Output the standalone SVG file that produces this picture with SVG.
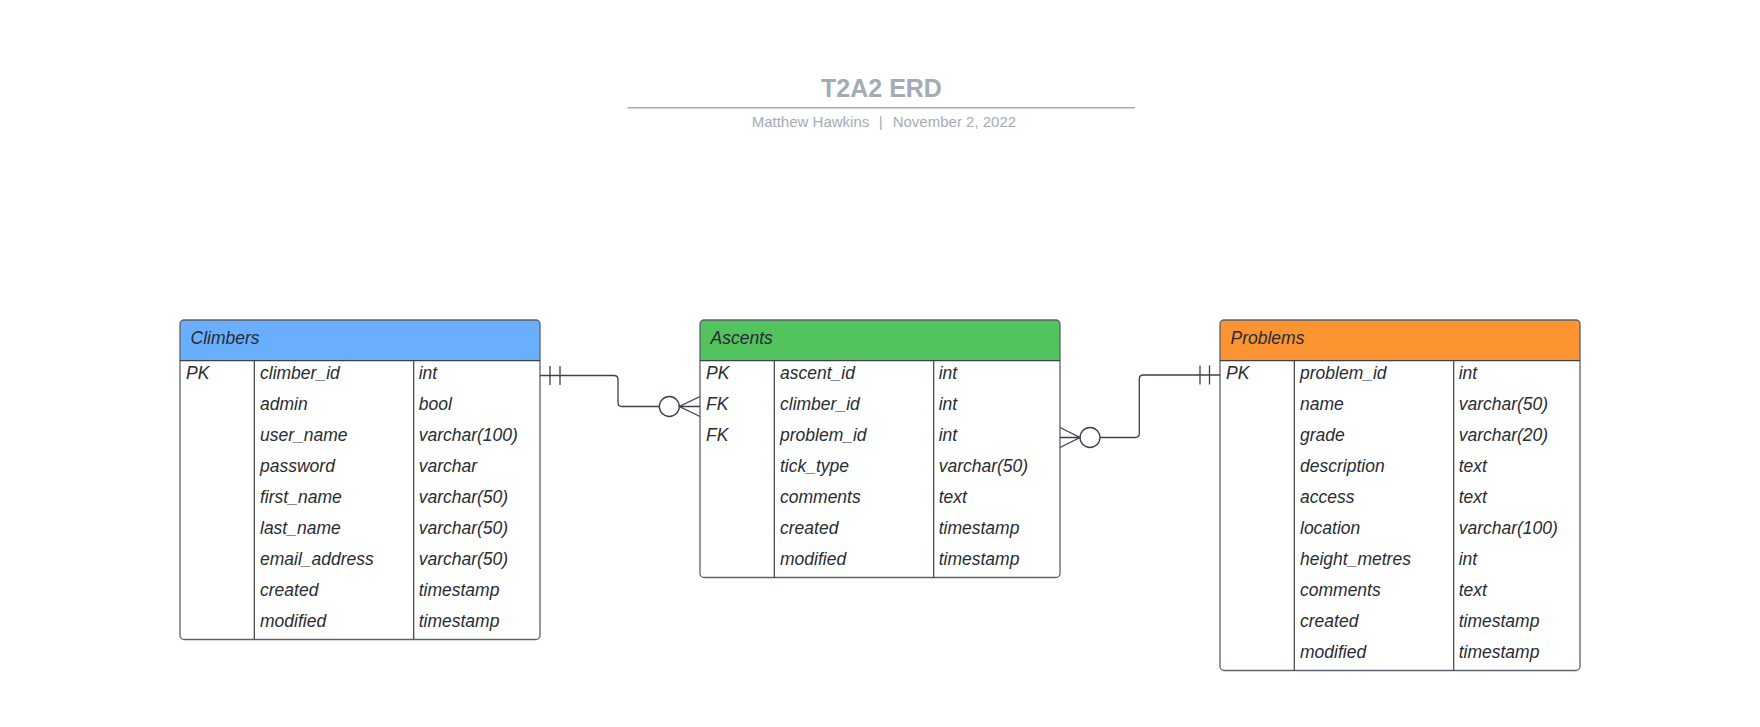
<svg xmlns="http://www.w3.org/2000/svg" width="1760" height="727" viewBox="0 0 1760 727">
<style>
.t{font-family:"Liberation Sans",Arial,sans-serif;font-style:italic;font-size:17.5px;fill:#282c33}
.sub{font-family:"Liberation Sans",Arial,sans-serif;font-size:15px;fill:#a5abb5}
.box{fill:none;stroke:#5b626d;stroke-width:1.3}
.div{stroke:#3a414a;stroke-width:1.2}
.conn{fill:none;stroke:#3a414a;stroke-width:1.3}
</style>
<rect width="1760" height="727" fill="#ffffff"/>
<g id="title">
<text x="881.5" y="97.3" text-anchor="middle" font-family="'Liberation Sans',Arial,sans-serif" font-weight="bold" font-size="25" fill="#a5abb5">T2A2 ERD</text>
<line x1="627.5" y1="107.7" x2="1135" y2="107.7" stroke="#a5abb7" stroke-width="1.5"/>
<text class="sub" x="751.7" y="127.3">Matthew Hawkins</text>
<text class="sub" x="880.8" y="127.3" text-anchor="middle">|</text>
<text class="sub" x="892.7" y="127.3">November 2, 2022</text>
</g>
<g id="climbers">
<path d="M180,360.7 V324 Q180,320 184,320 H536 Q540,320 540,324 V360.7 Z" fill="#6aaefe"/>
<rect x="180" y="320" width="360" height="319.5" rx="4" class="box"/>
<line x1="180" y1="360.7" x2="540" y2="360.7" class="div"/>
<line x1="254.3" y1="360.7" x2="254.3" y2="639.5" class="div"/>
<line x1="413.7" y1="360.7" x2="413.7" y2="639.5" class="div"/>
<text class="t" x="190.5" y="343.5">Climbers</text>
<text class="t" x="186" y="379">PK</text>
<text class="t" x="260" y="379">climber_id</text><text class="t" x="418.7" y="379">int</text>
<text class="t" x="260" y="410">admin</text><text class="t" x="418.7" y="410">bool</text>
<text class="t" x="260" y="441">user_name</text><text class="t" x="418.7" y="441">varchar(100)</text>
<text class="t" x="260" y="472">password</text><text class="t" x="418.7" y="472">varchar</text>
<text class="t" x="260" y="503">first_name</text><text class="t" x="418.7" y="503">varchar(50)</text>
<text class="t" x="260" y="534">last_name</text><text class="t" x="418.7" y="534">varchar(50)</text>
<text class="t" x="260" y="565">email_address</text><text class="t" x="418.7" y="565">varchar(50)</text>
<text class="t" x="260" y="596">created</text><text class="t" x="418.7" y="596">timestamp</text>
<text class="t" x="260" y="627">modified</text><text class="t" x="418.7" y="627">timestamp</text>
</g>
<g id="ascents">
<path d="M700,360.7 V324 Q700,320 704,320 H1056 Q1060,320 1060,324 V360.7 Z" fill="#53c35e"/>
<rect x="700" y="320" width="360" height="257.5" rx="4" class="box"/>
<line x1="700" y1="360.7" x2="1060" y2="360.7" class="div"/>
<line x1="774.3" y1="360.7" x2="774.3" y2="577.5" class="div"/>
<line x1="933.7" y1="360.7" x2="933.7" y2="577.5" class="div"/>
<text class="t" x="710.5" y="343.5">Ascents</text>
<text class="t" x="706" y="379">PK</text>
<text class="t" x="706" y="410">FK</text>
<text class="t" x="706" y="441">FK</text>
<text class="t" x="780" y="379">ascent_id</text><text class="t" x="938.7" y="379">int</text>
<text class="t" x="780" y="410">climber_id</text><text class="t" x="938.7" y="410">int</text>
<text class="t" x="780" y="441">problem_id</text><text class="t" x="938.7" y="441">int</text>
<text class="t" x="780" y="472">tick_type</text><text class="t" x="938.7" y="472">varchar(50)</text>
<text class="t" x="780" y="503">comments</text><text class="t" x="938.7" y="503">text</text>
<text class="t" x="780" y="534">created</text><text class="t" x="938.7" y="534">timestamp</text>
<text class="t" x="780" y="565">modified</text><text class="t" x="938.7" y="565">timestamp</text>
</g>
<g id="problems">
<path d="M1220,360.7 V324 Q1220,320 1224,320 H1576 Q1580,320 1580,324 V360.7 Z" fill="#fc9432"/>
<rect x="1220" y="320" width="360" height="350.5" rx="4" class="box"/>
<line x1="1220" y1="360.7" x2="1580" y2="360.7" class="div"/>
<line x1="1294.3" y1="360.7" x2="1294.3" y2="670.5" class="div"/>
<line x1="1453.7" y1="360.7" x2="1453.7" y2="670.5" class="div"/>
<text class="t" x="1230.5" y="343.5">Problems</text>
<text class="t" x="1226" y="379">PK</text>
<text class="t" x="1300" y="379">problem_id</text><text class="t" x="1458.7" y="379">int</text>
<text class="t" x="1300" y="410">name</text><text class="t" x="1458.7" y="410">varchar(50)</text>
<text class="t" x="1300" y="441">grade</text><text class="t" x="1458.7" y="441">varchar(20)</text>
<text class="t" x="1300" y="472">description</text><text class="t" x="1458.7" y="472">text</text>
<text class="t" x="1300" y="503">access</text><text class="t" x="1458.7" y="503">text</text>
<text class="t" x="1300" y="534">location</text><text class="t" x="1458.7" y="534">varchar(100)</text>
<text class="t" x="1300" y="565">height_metres</text><text class="t" x="1458.7" y="565">int</text>
<text class="t" x="1300" y="596">comments</text><text class="t" x="1458.7" y="596">text</text>
<text class="t" x="1300" y="627">created</text><text class="t" x="1458.7" y="627">timestamp</text>
<text class="t" x="1300" y="658">modified</text><text class="t" x="1458.7" y="658">timestamp</text>
</g>
<g id="connectors">
<path class="conn" d="M540,375.5 H614 Q618,375.5 618,379.5 V402.5 Q618,406.5 622,406.5 H659.3"/>
<line class="conn" x1="550" y1="366" x2="550" y2="385"/>
<line class="conn" x1="560" y1="366" x2="560" y2="385"/>
<circle class="conn" cx="669.3" cy="406.5" r="10"/>
<path class="conn" d="M700,396.5 L679.3,406.5 L700,416.5 M679.3,406.5 H700"/>
<path class="conn" d="M1100,437.5 H1135.3 Q1139.3,437.5 1139.3,433.5 V379 Q1139.3,375 1143.3,375 H1220"/>
<line class="conn" x1="1200" y1="365.5" x2="1200" y2="384.5"/>
<line class="conn" x1="1209.5" y1="365.5" x2="1209.5" y2="384.5"/>
<circle class="conn" cx="1090" cy="437.5" r="10"/>
<path class="conn" d="M1060,427.5 L1080,437.5 L1060,447.5 M1060,437.5 H1080"/>
</g>
</svg>
